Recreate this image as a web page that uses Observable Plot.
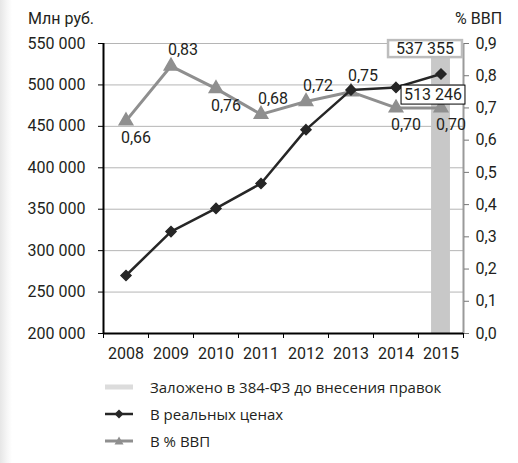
<!DOCTYPE html>
<html><head><meta charset="utf-8">
<script src="https://cdn.jsdelivr.net/npm/d3@7"></script>
<script src="https://cdn.jsdelivr.net/npm/@observablehq/plot@0.6"></script>
<style>
body{margin:0;background:#fff;}
#wrap{position:relative;width:518px;height:463px;overflow:hidden;font-family:Roboto,sans-serif;color:#231f20;background:#fff;}
.shade{position:absolute;left:0;top:0;width:12px;height:463px;background:linear-gradient(to right,#e6e6e6,#f5f5f5 55%,#fff);}
#chart{position:absolute;left:0;top:0;}
.unit{position:absolute;top:9px;font-size:16px;font-family:Roboto,sans-serif;line-height:20px;}
#legend{position:absolute;left:105px;top:374px;font-family:"Open Sans",sans-serif;font-size:15px;}
.row{position:absolute;left:0;height:26px;display:flex;align-items:center;white-space:nowrap;}
.row svg{margin-right:17px;}
</style></head><body>
<div id="wrap">
  <div class="shade"></div>
  <div id="chart"></div>
  <div class="unit" id="uL" style="left:28px"></div>
  <div class="unit" id="uR" style="left:455px"></div>
  <div id="legend"></div>
</div>
<script>
const years = [2008, 2009, 2010, 2011, 2012, 2013, 2014, 2015];
const realValues = [270000, 323000, 351000, 381000, 446000, 494000, 497000, 513246];
const gdpShare = [0.66, 0.83, 0.76, 0.68, 0.72, 0.75, 0.70, 0.70];
const gdpLabelSide = ["below", "above", "below", "above", "above", "above", "below", "below"];
const plannedYear = [2015];
const plannedValue = [537355];
const leftTicks = [200000, 250000, 300000, 350000, 400000, 450000, 500000, 550000];
const rightTicks = [0, 0.1, 0.2, 0.3, 0.4, 0.5, 0.6, 0.7, 0.8, 0.9];
const leftUnit = "Млн руб.";
const rightUnit = "% ВВП";
const legendNames = ["Заложено в 384-ФЗ до внесения правок", "В реальных ценах", "В % ВВП"];

const yMin = 200000, yMax = 550000, pMax = 0.9;
const toY = p => yMin + p / pMax * (yMax - yMin);
const fmtRub = v => d3.format(",")(v).replace(/,/g, " ");
const fmtPct = (p, n) => p.toFixed(n).replace(".", ",");

const real = years.map((year, i) => ({year, value: realValues[i]}));
const gdp = years.map((year, i) => ({year, share: gdpShare[i], yv: toY(gdpShare[i]), side: gdpLabelSide[i]}));
const planned = plannedYear.map((year, i) => ({year, value: plannedValue[i]}));
const lastReal = real.slice(-1);
const bounds = years.map(y => y - 0.5).concat([years[years.length - 1] + 0.5]);

const BLACK = "#262626", GRAY = "#8f8f8f", INK = "#231f20";

const plot = Plot.plot({
  width: 518, height: 370,
  marginLeft: 103, marginRight: 55, marginTop: 43, marginBottom: 37,
  style: {fontFamily: "Roboto, sans-serif", fontSize: "16px", color: INK, background: "transparent", overflow: "visible"},
  x: {domain: [bounds[0], bounds[bounds.length - 1]]},
  y: {domain: [yMin, yMax]},
  marks: [
    Plot.ruleY(leftTicks.filter(v => v > yMin), {stroke: "#b5b5b5", strokeWidth: 1}),
    Plot.rectY(planned, {x1: d => d.year - 0.21, x2: d => d.year + 0.21, y1: yMin, y2: "value", fill: "#c8c8c8"}),
    Plot.ruleX([bounds[bounds.length - 1]], {stroke: "#9a9a9a", strokeWidth: 2}),
    Plot.axisY({anchor: "right", ticks: rightTicks.map(toY), tickFormat: v => fmtPct((v - yMin) / (yMax - yMin) * pMax, 1), tickSize: 5, tickPadding: 7, stroke: "#777", label: null}),
    Plot.line(gdp, {x: "year", y: "yv", stroke: GRAY, strokeWidth: 3}),
    Plot.dot(gdp, {x: "year", y: "yv", symbol: "triangle", r: 5, fill: GRAY, stroke: GRAY}),
    Plot.line(real, {x: "year", y: "value", stroke: BLACK, strokeWidth: 2.5}),
    Plot.dot(real, {x: "year", y: "value", symbol: "diamond2", r: 4.5, fill: BLACK, stroke: BLACK}),
    Plot.ruleX([bounds[0]], {stroke: "#000", strokeWidth: 2}),
    Plot.ruleY([yMin], {stroke: "#000", strokeWidth: 2}),
    Plot.axisY({anchor: "left", ticks: leftTicks, tickFormat: fmtRub, tickSize: 5, tickPadding: 13, stroke: "#000", label: null}),
    Plot.axisX({ticks: bounds, tickFormat: () => "", tickSize: 5, stroke: "#000", label: null}),
    Plot.axisX({ticks: years, tickFormat: d => String(d), tickSize: 0, tickPadding: 14, label: null}),
    Plot.text(gdp.filter(d => d.side === "above"), {x: "year", y: "yv", text: d => fmtPct(d.share, 2), dx: 12, dy: -16, fill: INK}),
    Plot.text(gdp.filter(d => d.side === "below"), {x: "year", y: "yv", text: d => fmtPct(d.share, 2), dx: 10, dy: 17, fill: INK}),
    Plot.text(lastReal, {x: "year", y: "value", text: d => fmtRub(d.value), dx: -8, dy: 21, fill: INK}),
    Plot.text(planned, {x: "year", y: "value", text: d => fmtRub(d.value), dx: -16, dy: -5, fill: INK})
  ]
});
document.getElementById("chart").appendChild(plot);
document.getElementById("uL").textContent = leftUnit;
document.getElementById("uR").textContent = rightUnit;

// boxes behind the two value labels
const boxes = [
  {text: fmtRub(lastReal[0].value), stroke: "#000", sw: 1, px: 3, py: 0},
  {text: fmtRub(planned[0].value), stroke: "#bdbdbd", sw: 2.5, px: 8, py: -1}
];
plot.querySelectorAll("text").forEach(t => {
  const b = boxes.find(b => b.text === t.textContent);
  if (!b) return;
  const bb = t.getBBox();
  const r = document.createElementNS("http://www.w3.org/2000/svg", "rect");
  r.setAttribute("x", bb.x - b.px);
  r.setAttribute("y", bb.y - b.py);
  r.setAttribute("width", bb.width + 2 * b.px);
  r.setAttribute("height", bb.height + 2 * b.py);
  r.setAttribute("fill", "#fff");
  r.setAttribute("stroke", b.stroke);
  r.setAttribute("stroke-width", b.sw);
  if (t.getAttribute("transform")) r.setAttribute("transform", t.getAttribute("transform"));
  t.parentNode.insertBefore(r, t);
});

// legend
const icons = [
  `<svg width="28" height="10"><rect x="0" y="2.5" width="28" height="5" fill="#dcdcdc"/></svg>`,
  `<svg width="28" height="10"><line x1="0" y1="5" x2="28" y2="5" stroke="${BLACK}" stroke-width="2.5"/><path d="M14,0.5 L18.5,5 L14,9.5 L9.5,5Z" fill="${BLACK}"/></svg>`,
  `<svg width="28" height="10"><line x1="0" y1="5" x2="28" y2="5" stroke="${GRAY}" stroke-width="3"/><path d="M14,0.5 L18.5,8.5 L9.5,8.5Z" fill="${GRAY}"/></svg>`
];
const tops = [0, 27, 54];
document.getElementById("legend").innerHTML = legendNames.map((n, i) =>
  `<div class="row" style="top:${tops[i]}px">${icons[i]}<span>${n}</span></div>`).join("");
</script>
</body></html>
